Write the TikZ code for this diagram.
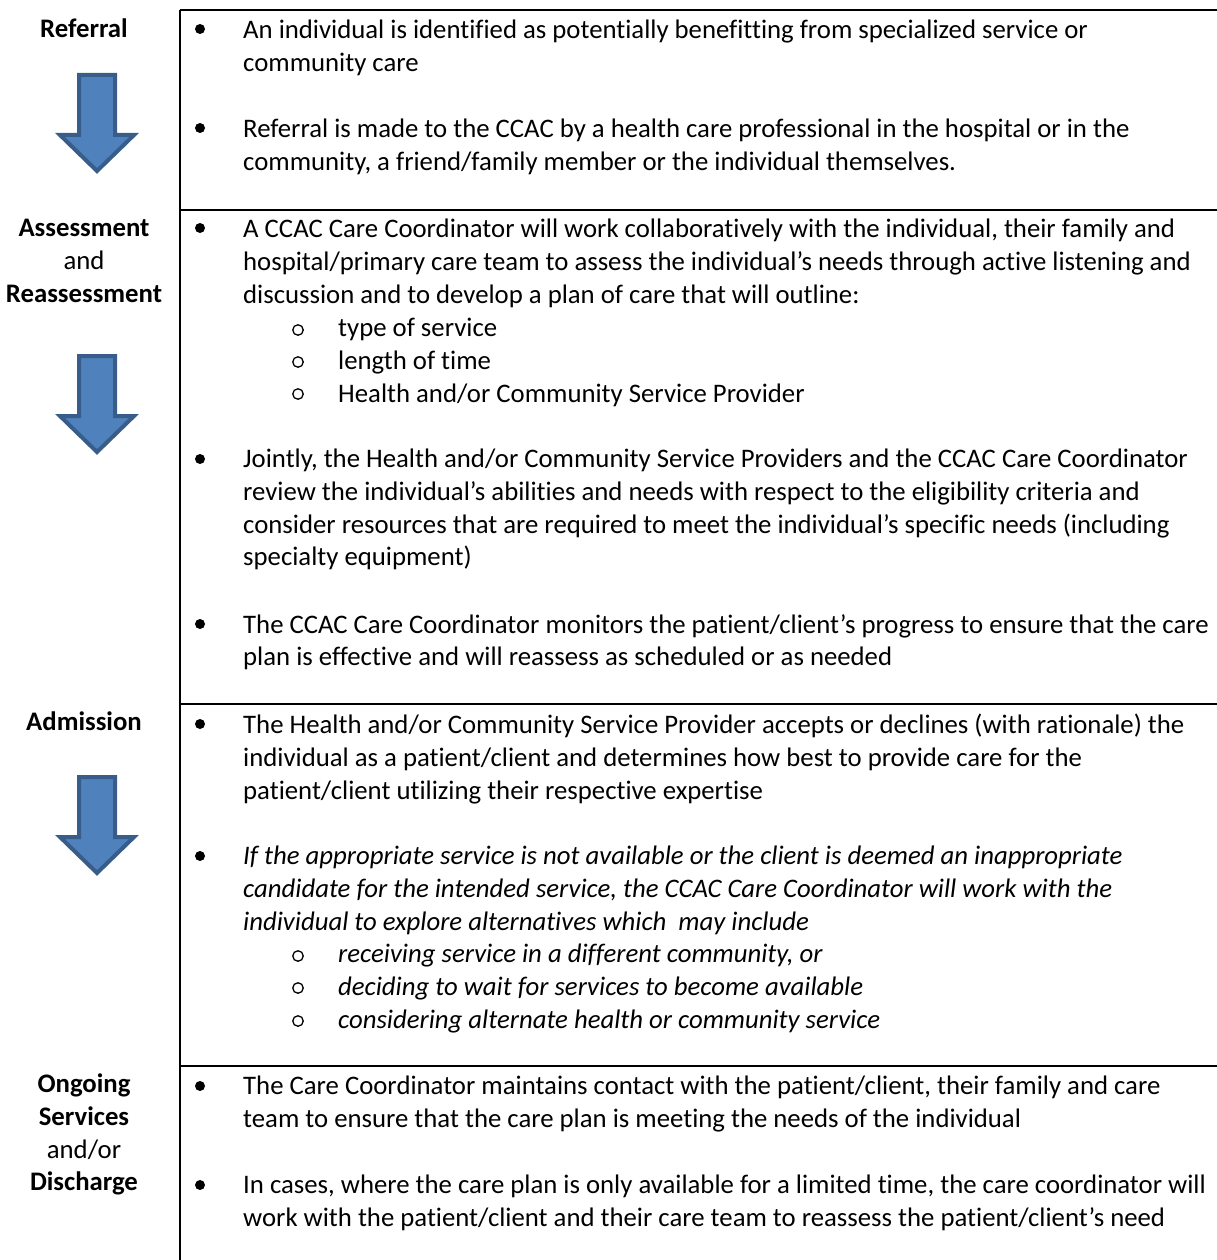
\documentclass[tikz,border=0pt]{standalone}
\usepackage{fontspec}
\setmainfont{Carlito}[Ligatures=NoCommon]
\usetikzlibrary{positioning}

\definecolor{arrowfill}{RGB}{79,129,189}
\definecolor{arrowedge}{RGB}{56,93,138}
\newcommand\bodyfont{\fontsize{26.75}{32.7}\selectfont}

\tikzset{
  rule/.style={line width=2pt},
  stage/.style={font=\bodyfont\bfseries, anchor=base, inner sep=0pt},
  joiner/.style={font=\bodyfont, anchor=base, inner sep=0pt},
  % placed at the first baseline, the strut keeps the top line steady
  para/.style={font=\bodyfont, anchor=north west, align=left, inner sep=0pt,
    yshift=16.9pt, execute at begin node=\strut},
  bulletdot/.style={circle, fill, inner sep=0pt, minimum size=10pt},
  subdot/.style={circle, draw, line width=1.3pt, inner sep=0pt, minimum size=10.5pt},
  downarrow/.pic={
    \draw[line width=4pt, draw=arrowedge, fill=arrowfill]
      (-18,0) -- (18,0) -- (18,60) -- (37,60) -- (0,96) -- (-37,60) -- (-18,60) -- cycle;
  }
}

\begin{document}
\begin{tikzpicture}[x=1pt, y=-1pt]
	\useasboundingbox (0,0) rectangle (1217,1260);
	
	% grid of the table
	\draw[rule] (180,10) -- (1217,10);
	\draw[rule] (180,210) -- (1217,210);
	\draw[rule] (180,704) -- (1217,704);
	\draw[rule] (180,1066) -- (1217,1066);
	\draw[rule] (180,10) -- (180,1260);
	
	% stages
	\node[stage] (referral) at (84,38) {Referral};
	\node[stage] (assess) at (84,236) {Assessment};
	\node[joiner] (assessand) at (84,269) {and};
	\node[stage] (reassess) at (84,302) {Reassessment};
	\node[stage] (admission) at (84,730) {Admission};
	\node[stage] (ongoing) at (84,1092) {Ongoing};
	\node[stage] (services) at (84,1125) {Services};
	\node[joiner] (andor) at (84,1158) {and/or};
	\node[stage] (discharge) at (84,1190) {Discharge};
	
	\pic at (97,75) {downarrow};
	\pic at (97,356) {downarrow};
	\pic at (97,777) {downarrow};
	
	% referral
	\node[bulletdot] (rd1) at (200,29) {};
	\node[para] (r1) at (243,37) {An individual is identified as potentially benefitting from specialized service or\\community care};
	\node[bulletdot] (rd2) at (200,128) {};
	\node[para] (r2) at (243,136) {Referral is made to the CCAC by a health care professional in the hospital or in the\\community, a friend/family member or the individual themselves.};
	
	% assessment
	\node[bulletdot] (ad1) at (200,228) {};
	\node[para] (a1) at (243,236) {A CCAC Care Coordinator will work collaboratively with the individual, their family and\\hospital/primary care team to assess the individual’s needs through active listening and\\discussion and to develop a plan of care that will outline:};
	\node[subdot] (as1) at (298,330) {};
	\node[subdot] (as2) at (298,362) {};
	\node[subdot] (as3) at (298,394) {};
	\node[para] (asub) at (338,335) {type of service\\length of time\\Health and/or Community Service Provider};
	\node[bulletdot] (ad2) at (200,459) {};
	\node[para] (a2) at (243,466) {Jointly, the Health and/or Community Service Providers and the CCAC Care Coordinator\\review the individual’s abilities and needs with respect to the eligibility criteria and\\consider resources that are required to meet the individual’s specific needs (including\\specialty equipment)};
	\node[bulletdot] (ad3) at (200,624) {};
	\node[para] (a3) at (243,631) {The CCAC Care Coordinator monitors the patient/client’s progress to ensure that the care\\plan is effective and will reassess as scheduled or as needed};
	
	% admission
	\node[bulletdot] (md1) at (200,724) {};
	\node[para] (m1) at (243,731) {The Health and/or Community Service Provider accepts or declines (with rationale) the\\individual as a patient/client and determines how best to provide care for the\\patient/client utilizing their respective expertise};
	\node[bulletdot] (md2) at (200,856) {};
	\node[para, font=\bodyfont\itshape] (m2) at (243,863) {If the appropriate service is not available or the client is deemed an inappropriate\\candidate for the intended service, the CCAC Care Coordinator will work with the\\individual to explore alternatives which~ may include};
	\node[subdot] (ms1) at (298,956) {};
	\node[subdot] (ms2) at (298,988) {};
	\node[subdot] (ms3) at (298,1021) {};
	\node[para, font=\bodyfont\itshape] (msub) at (338,961) {receiving service in a different community, or\\deciding to wait for services to become available\\considering alternate health or community service};
	
	% ongoing services and discharge
	\node[bulletdot] (od1) at (200,1086) {};
	\node[para] (o1) at (243,1093) {The Care Coordinator maintains contact with the patient/client, their family and care\\team to ensure that the care plan is meeting the needs of the individual};
	\node[bulletdot] (od2) at (200,1185) {};
	\node[para] (o2) at (243,1192) {In cases, where the care plan is only available for a limited time, the care coordinator will\\work with the patient/client and their care team to reassess the patient/client’s need};
\end{tikzpicture}
\end{document}
